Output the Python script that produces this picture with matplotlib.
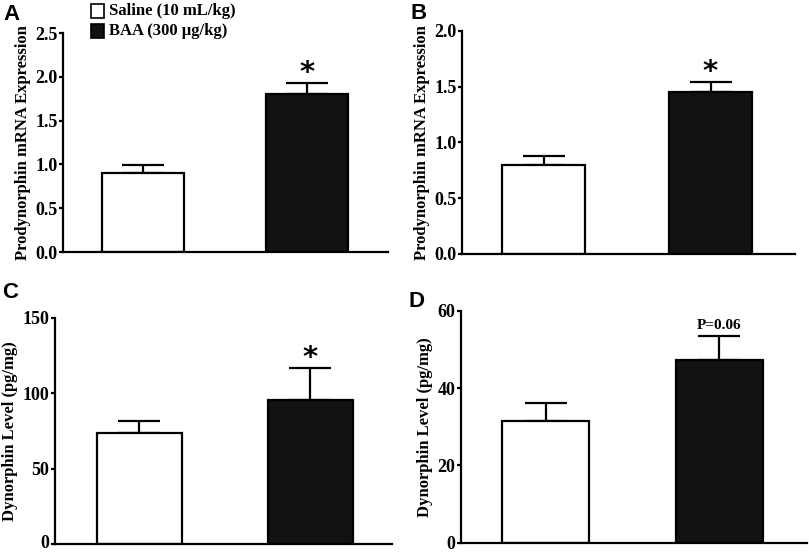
import matplotlib

matplotlib.use("Agg")

import matplotlib.pyplot as plt
import matplotlib.transforms as mtransforms
from matplotlib.patches import Rectangle

plt.rcParams["font.family"] = ["Liberation Serif", "DejaVu Serif"]
plt.rcParams["font.weight"] = "bold"

groups = ["Saline (10 mL/kg)", "BAA (300 \u00b5g/kg)"]

# panel A: prodynorphin mRNA
a_means = [0.90, 1.80]
a_err = [0.09, 0.13]
# panel B: prodynorphin mRNA
b_means = [0.80, 1.45]
b_err = [0.075, 0.095]
# panel C: dynorphin level
c_means = [73.7, 95.6]
c_err = [8.1, 21.0]
# panel D: dynorphin level
d_means = [31.5, 47.2]
d_err = [4.5, 6.2]

mrna_label = "Prodynorphin mRNA Expression"
dyn_label = "Dynorphin Level (pg/mg)"

# letter, means, errors, ylabel, ylim, yticks, tick format, mark, axes rect, xlim, letter pos
panels = [
    ("A", a_means, a_err, mrna_label, (0, 2.5), [0, 0.5, 1.0, 1.5, 2.0, 2.5], "{:.1f}", "*",
     [0.0779, 0.5443, 0.4017, 0.3960], (-0.488, 1.494), (3, 4)),
    ("B", b_means, b_err, mrna_label, (0, 2.0), [0, 0.5, 1.0, 1.5, 2.0], "{:.1f}", "*",
     [0.5711, 0.5407, 0.4116, 0.4033], (-0.488, 1.506), (411, 3)),
    ("C", c_means, c_err, dyn_label, (0, 150), [0, 50, 100, 150], "{:.0f}", "*",
     [0.0680, 0.0160, 0.4165, 0.4095], (-0.494, 1.477), (2, 282)),
    ("D", d_means, d_err, dyn_label, (0, 60), [0, 20, 40, 60], "{:.0f}", "P=0.06",
     [0.5698, 0.0186, 0.4277, 0.4196], (-0.486, 1.503), (409, 291)),
]

fig = plt.figure(figsize=(8.09, 5.53), dpi=100)

for letter, means, errs, ylabel, ylim, yticks, fmt, mark, rect, xlim, lpos in panels:
    ax = fig.add_axes(rect)
    x = [0, 1]
    ax.bar(x, means, width=0.5, color=["white", "#111111"], edgecolor="black",
           linewidth=1.6, zorder=2)
    ax.errorbar(x, means, yerr=[[0, 0], errs], fmt="none", ecolor="black",
                elinewidth=1.6, capsize=15, capthick=1.6, zorder=1)
    ax.set_xlim(*xlim)
    ax.set_ylim(*ylim)
    ax.set_yticks(yticks)
    ax.set_yticklabels([fmt.format(t) for t in yticks])
    ax.set_xticks([])
    for side in ("top", "right"):
        ax.spines[side].set_visible(False)
    for side in ("left", "bottom"):
        ax.spines[side].set_linewidth(1.6)
    ax.tick_params(axis="y", direction="out", length=3, width=1.6, labelsize=13, pad=1)
    for lab in ax.get_yticklabels():
        lab.set_fontweight("bold")
    if letter == "C":
        # keep the bottom "0" inside the figure
        zero = ax.get_yticklabels()[0]
        zero.set_transform(zero.get_transform()
                           + mtransforms.ScaledTranslation(0, 3 / 100, fig.dpi_scale_trans))
    ax.set_ylabel(ylabel, fontsize=12, fontweight="bold", labelpad=3)

    top = means[1] + errs[1]
    if mark == "*":
        ax.annotate("*", (1, top), xytext=(0, -3), textcoords="offset points",
                    ha="center", va="bottom", fontsize=21, fontweight="bold",
                    family="DejaVu Sans")
    else:
        ax.annotate(mark, (1, top), xytext=(0, 3), textcoords="offset points",
                    ha="center", va="bottom", fontsize=11, fontweight="bold")

    fig.text(lpos[0] / 809, 1 - lpos[1] / 553, letter,
             family="Liberation Sans", fontsize=16, fontweight="bold",
             ha="left", va="top")

# legend
fig.patches.append(Rectangle((91 / 809, 1 - 18 / 553), 13 / 809, 14 / 553,
                             transform=fig.transFigure, facecolor="white",
                             edgecolor="black", linewidth=1.2))
fig.patches.append(Rectangle((91 / 809, 1 - 38 / 553), 13 / 809, 14 / 553,
                             transform=fig.transFigure, facecolor="#111111",
                             edgecolor="black", linewidth=1.2))
fig.text(109 / 809, 1 - 11 / 553, groups[0], fontsize=12, fontweight="bold", va="center")
fig.text(109 / 809, 1 - 31 / 553, groups[1], fontsize=12, fontweight="bold", va="center")

fig.savefig("out.png", dpi=100)
plt.close(fig)
